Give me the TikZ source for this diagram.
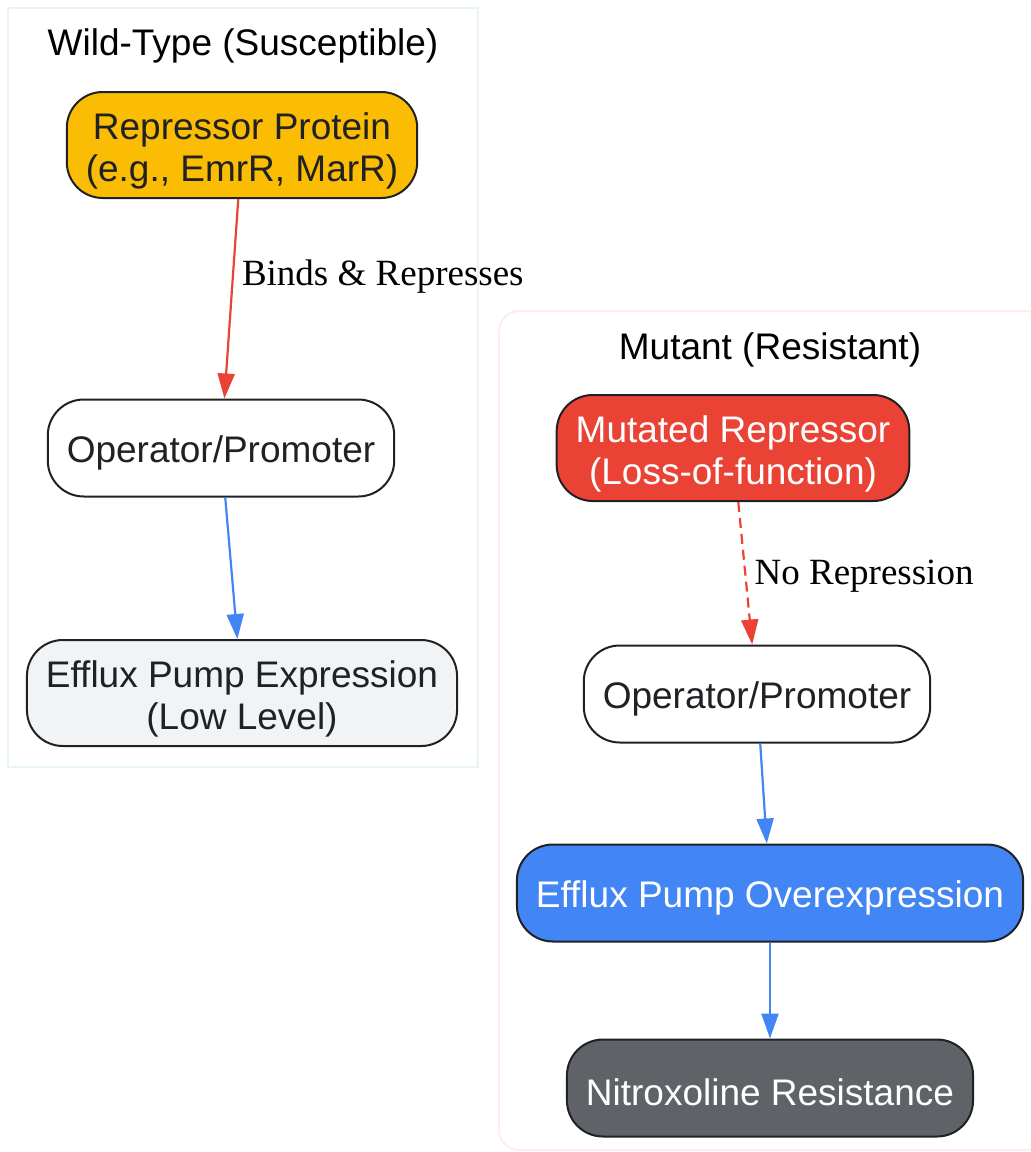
\documentclass[tikz,border=0pt]{standalone}
\usepackage{fontspec}
\setmainfont{Liberation Sans}
\newfontfamily\edgefont{Liberation Serif}
\usetikzlibrary{arrows.meta}

\definecolor{gyellow}{HTML}{FBBC04}
\definecolor{gred}{HTML}{EA4335}
\definecolor{gblue}{HTML}{4285F4}
\definecolor{ggrey}{HTML}{5F6368}
\definecolor{glight}{HTML}{F1F3F4}
\definecolor{ink}{HTML}{202124}
\definecolor{wildline}{HTML}{E8F5F3}
\definecolor{mutline}{HTML}{FDEEEC}

\tikzset{
  box/.style={draw=ink, line width=1pt, rounded corners=18pt, align=center,
    font=\fontsize{18.5}{21}\selectfont, text=ink, inner xsep=9.5pt,
    text height=18pt, minimum height=48.5pt},
  twoline/.style={text height=40pt, minimum height=53pt},
  flow/.style={line width=1.1pt, -{Triangle[length=12.5pt,width=8.5pt]}},
  edgelabel/.style={font=\edgefont\fontsize{18.5}{21}\selectfont, inner sep=4pt, text=black},
  title/.style={font=\fontsize{18.5}{21}\selectfont, text=black}
}

\begin{document}
\begin{tikzpicture}[x=0.5pt,y=-0.5pt]
\useasboundingbox (0,0) rectangle (1031,1152);

% clusters
\draw[wildline, line width=1pt] (8,8) rectangle (478,767);
\draw[mutline, line width=1pt, rounded corners=10pt] (499,311) rectangle (1046,1150);
\node[title] (wildtitle) at (243,46) {Wild-Type (Susceptible)};
\node[title] (muttitle) at (770,350) {Mutant (Resistant)};

% wild type
\node[box, twoline, fill=gyellow] (rep) at (242,145) {Repressor Protein\\(e.g., EmrR, MarR)};
\node[box, fill=white] (op1) at (221,448) {Operator/Promoter};
\node[box, twoline, fill=glight] (pump1) at (242,693) {Efflux Pump Expression\\(Low Level)};

\draw[flow, gred] (rep) -- (op1) node[edgelabel, pos=0.387, right] {Binds \& Represses};
\draw[flow, gblue] (op1) -- (pump1);

% mutant
\node[box, twoline, fill=gred, text=white] (mutrep) at (733,448) {Mutated Repressor\\(Loss-of-function)};
\node[box, fill=white] (op2) at (757,694) {Operator/Promoter};
\node[box, fill=gblue, text=white] (pump2) at (770,893) {Efflux Pump Overexpression};
\node[box, fill=ggrey, text=white] (resist) at (770,1088) {Nitroxoline Resistance};

\draw[flow, gred, dash pattern=on 5pt off 3pt] (mutrep) -- (op2) node[edgelabel, pos=0.52, right] {No Repression};
\draw[flow, gblue] (op2) -- (pump2);
\draw[flow, gblue] (pump2) -- (resist);
\end{tikzpicture}
\end{document}
